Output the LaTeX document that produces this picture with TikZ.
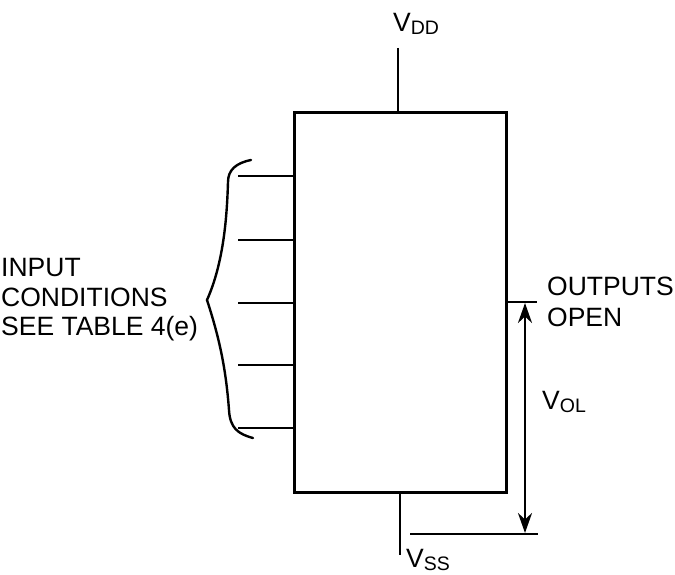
\documentclass[tikz,border=0pt]{standalone}
\usepackage{fontspec}
\setmainfont{Liberation Sans}
\usetikzlibrary{arrows.meta}
\tikzset{
  wire/.style={line width=2.2pt,black},
  chipbox/.style={draw,line width=2.6pt,minimum width=212pt,minimum height=380pt,inner sep=0pt,anchor=north west},
  lbl/.style={font=\fontsize{26.5}{26.5}\selectfont,anchor=base west,inner sep=0pt,align=left},
  dim/.style={line width=2.6pt,{Stealth[length=20pt,width=14pt]}-{Stealth[length=20pt,width=14pt]}},
  bracecurve/.style={line width=2.4pt,line cap=round}
}
\newcommand{\vsub}[1]{V\raisebox{-3pt}{\fontsize{19.5}{19.5}\selectfont #1}}
\begin{document}
\begin{tikzpicture}[x=1pt,y=-1pt]
\useasboundingbox (0,0) rectangle (675,575);
\node[chipbox] (chip) at (293,111) {};
% supply pins
\coordinate (vddend) at (398,48);
\coordinate (vssend) at (400,555);
\draw[wire] (vddend) -- (vddend |- chip.north);
\draw[wire] (vssend |- chip.south) -- (vssend);
% inputs
\foreach \n/\yy in {a/176,b/240,c/303,d/365,e/428}{
  \coordinate (in\n) at (238,\yy);
  \draw[wire] (in\n) -- (in\n -| chip.west);
}
% brace
\coordinate (bt) at (251,160);
\coordinate (bm) at (207,300);
\coordinate (bb) at (253,438);
\draw[bracecurve] (bt) .. controls (236,163) and (228,170) .. (228,182)
  .. controls (227,215) and (224,262) .. (bm)
  .. controls (220,340) and (226,370) .. (229,410)
  .. controls (230,428) and (238,434) .. (bb);
% output
\coordinate (outend) at (537,302);
\draw[wire] (outend -| chip.east) -- (outend);
\coordinate (gndl) at (410,534);
\coordinate (gndr) at (538,534);
\draw[wire] (gndl) -- (gndr);
\coordinate (arrtop) at (525,303);
\coordinate (arrbot) at (525,533);
\draw[dim] (arrtop) -- (arrbot);
% labels
\node[lbl] (vdd) at (393,32) {\vsub{DD}};
\node[lbl] (vss) at (406,567) {\vsub{SS}};
\node[lbl] (vol) at (542,409) {\vsub{OL}};
\node[lbl] (o1) at (547,295) {OUTPUTS};
\node[lbl] (o2) at (547,326) {OPEN};
\node[lbl] (i1) at (1,276) {INPUT};
\node[lbl] (i2) at (1,306) {CONDITIONS};
\node[lbl] (i3) at (1,335) {SEE TABLE 4(e)};
\end{tikzpicture}
\end{document}
